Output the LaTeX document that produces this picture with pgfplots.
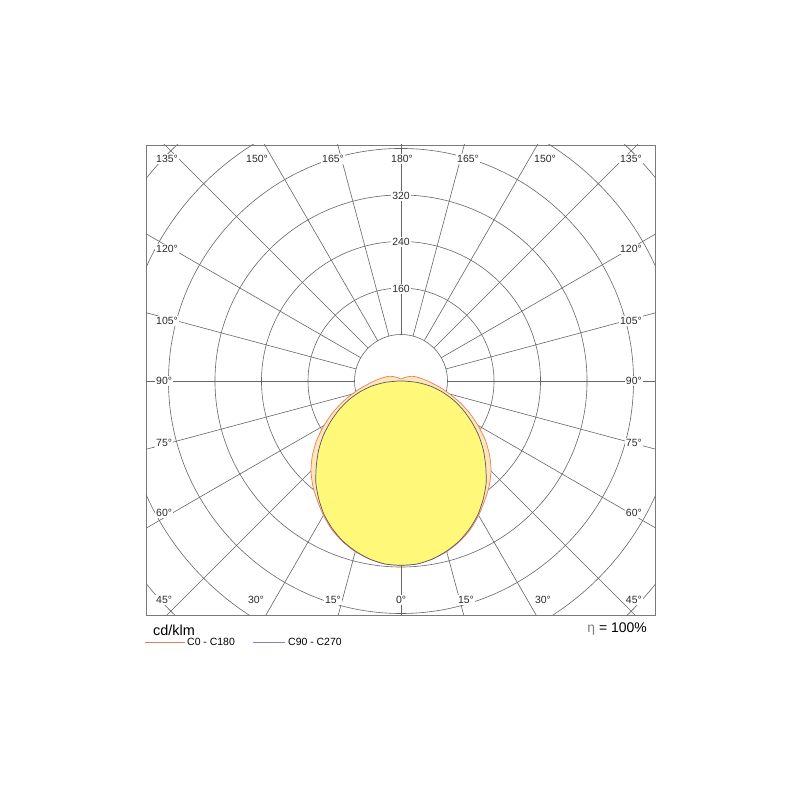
\documentclass[border=0pt]{standalone}
\usepackage{fontspec}
\setmainfont{Liberation Sans}
\usepackage{pgfplots}
\usepackage{pgfplotstable}
\pgfplotsset{compat=1.18}

\definecolor{gridgray}{HTML}{666666}
\definecolor{boxgray}{HTML}{7A7A7A}
\definecolor{czerofill}{HTML}{FFE8B8}
\definecolor{czeroline}{HTML}{F07A62}
\definecolor{cninetyfill}{HTML}{FFF878}
\definecolor{cninetyline}{HTML}{56566A}
\definecolor{legblue}{HTML}{8484C8}
\definecolor{labelgray}{HTML}{2A2A2A}

% gamma = angle from nadir (negative = C180 / C270 side), I in cd/klm
\pgfplotstableread{
ang I
-180 4
-170 4
-160 4
-150 5
-140 7
-130 10
-120 15
-115 19
-110 23
-105 27
-100 32
-95 38
-90 46
-85 56
-80 70
-75 87
-70 108
-65 130
-60 153
-55 177
-50 199
-45 219
-40 236
-35 251
-30 267
-25 282
-20 294
-15 304
-10 311
-5 316
0 317
5 316
10 311
15 304
20 294
25 282
30 267
35 251
40 236
45 219
50 199
55 177
60 153
65 130
70 108
75 87
80 70
85 56
90 46
95 38
100 32
105 27
110 23
115 19
120 15
130 10
140 7
150 5
160 4
170 4
180 4
}\czero

\pgfplotstableread{
ang I
-90 4
-85 28
-80 52
-75 74
-70 96
-65 118
-60 140
-55 163
-50 185
-45 206
-40 228
-35 247
-30 265
-25 280
-20 293
-15 303
-10 311
-5 316
0 317
5 316
10 311
15 303
20 293
25 280
30 265
35 247
40 228
45 206
50 185
55 163
60 140
65 118
70 96
75 74
80 52
85 28
90 4
}\cninety

\begin{document}
\begin{tikzpicture}[x=1bp,y=1bp]
\path[use as bounding box, fill=white] (0,0) rectangle (800,800);
\begin{axis}[
    at={(146bp,185bp)}, anchor=south west,
    width=509bp, height=470bp, scale only axis,
    xmin=-438.67, xmax=436.95,
    ymin=-402.55, ymax=405.99,
    xtick=\empty, ytick=\empty,
    axis line style={boxgray, line width=0.8bp},
    clip=true,
  ]
  % grid circles
  \pgfplotsinvokeforeach{80,160,240,320,400,480,560,640}{
    \draw[gridgray, line width=0.6bp] (axis cs:0,0) circle[radius=#1];
  }
  % radial lines every 15 degrees
  \pgfplotsinvokeforeach{0,15,30,45,60,75,90,105,120,135,150,165,180}{
    \draw[gridgray, line width=0.6bp] (axis cs:{80*sin(#1)},{-80*cos(#1)}) -- (axis cs:{900*sin(#1)},{-900*cos(#1)});
    \draw[gridgray, line width=0.6bp] (axis cs:{-80*sin(#1)},{-80*cos(#1)}) -- (axis cs:{-900*sin(#1)},{-900*cos(#1)});
  }
  % C0 - C180
  \addplot[fill=czerofill, draw=czeroline, line width=0.7bp, smooth, tension=0.4]
    table[x expr={\thisrow{I}*sin(\thisrow{ang})}, y expr={-\thisrow{I}*cos(\thisrow{ang})}] {\czero} -- cycle;
  % C90 - C270
  \addplot[fill=cninetyfill, draw=cninetyline, line width=0.7bp, smooth, tension=0.4]
    table[x expr={\thisrow{I}*sin(\thisrow{ang})}, y expr={-\thisrow{I}*cos(\thisrow{ang})}] {\cninety} -- cycle;
\end{axis}

% angle labels
\begin{scope}[every node/.style={font=\fontsize{10.5}{12}\selectfont, text=labelgray, fill=white, inner sep=1bp}]
  \node[anchor=west] at (155,641) {135°};
  \node[anchor=west] at (155,551) {120°};
  \node[anchor=west] at (155,479) {105°};
  \node[anchor=west] at (155,419) {90°};
  \node[anchor=west] at (155,357) {75°};
  \node[anchor=west] at (155,287) {60°};
  \node[anchor=west] at (155,200) {45°};
  \node[anchor=east] at (643,641) {135°};
  \node[anchor=east] at (643,551) {120°};
  \node[anchor=east] at (643,479) {105°};
  \node[anchor=east] at (643,419) {90°};
  \node[anchor=east] at (643,357) {75°};
  \node[anchor=east] at (643,287) {60°};
  \node[anchor=east] at (643,200) {45°};
  \node at (257,641) {150°};
  \node at (333,641) {165°};
  \node at (402,641) {180°};
  \node at (468,641) {165°};
  \node at (545,641) {150°};
  \node at (256,200) {30°};
  \node at (333,200) {15°};
  \node at (401,200) {0°};
  \node at (466,200) {15°};
  \node at (543,200) {30°};
  \node at (401,604) {320};
  \node at (401,558) {240};
  \node at (401,511) {160};
\end{scope}

% units, efficiency and legend
\node[anchor=west, inner sep=0pt, font=\fontsize{14.5}{16}\selectfont] at (153,170) {cd/klm};
\node[anchor=east, inner sep=0pt, font=\fontsize{14}{16}\selectfont] at (647,171) {{\color{gray}η} = 100\%};
\draw[czeroline, line width=0.7bp] (145,158) -- (185,158);
\node[anchor=west, inner sep=0pt, font=\fontsize{10.5}{12}\selectfont] at (187,158) {C0 - C180};
\draw[legblue, line width=0.7bp] (253,158) -- (285,158);
\node[anchor=west, inner sep=0pt, font=\fontsize{10.5}{12}\selectfont] at (288,158) {C90 - C270};
\end{tikzpicture}
\end{document}
